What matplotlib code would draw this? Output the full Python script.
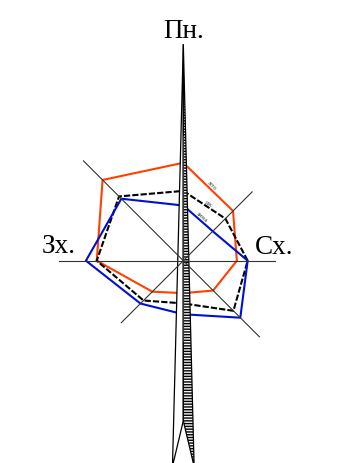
import numpy as np
import matplotlib.pyplot as plt
from matplotlib.patches import Polygon

# wind rose, % of cases per direction
directions = ['Пн', 'ПнСх', 'Сх', 'ПдСх', 'Пд', 'ПдЗх', 'Зх', 'ПнЗх']
summer = [18.1, 13.0, 9.9, 7.8, 6.0, 8.1, 16.0, 21.1]
year = [12.9, 11.0, 11.9, 13.1, 7.9, 10.4, 16.0, 16.8]
winter = [10.2, 7.7, 11.9, 14.9, 9.9, 11.2, 18.0, 16.2]
season_names = ['літо', 'рік', 'зима']

PX = 5.41  # pixels per percent
cx, cy = 183.3, 261.7

fig = plt.figure(figsize=(3.46, 4.64), dpi=100)
ax = fig.add_axes([0, 0, 1, 1])
ax.set_xlim(-cx / PX, (346 - cx) / PX)
ax.set_ylim(-(464 - cy) / PX, cy / PX)
ax.axis('off')

ang = np.deg2rad(90 - 45 * np.arange(8))  # N first, clockwise
ux, uy = np.cos(ang), np.sin(ang)

# axis lines: 5% beyond the largest value
rmax = np.max([summer, year, winter], axis=0) + 5
for i in range(8):
    ax.plot([0, rmax[i] * ux[i]], [0, rmax[i] * uy[i]], color='#333333', lw=0.8, zorder=4)

styles = [dict(color='#ff4000', lw=1.5),
          dict(color='black', lw=1.5, dashes=(3, 1)),
          dict(color='#0010d0', lw=1.5)]
for vals, name, st in zip([summer, year, winter], season_names, styles):
    v = np.array(vals)
    x = np.append(v * ux, v[0] * ux[0])
    y = np.append(v * uy, v[0] * uy[0])
    ax.plot(x, y, zorder=2, **st)
    # label along the N-NE segment
    x0, y0, x1, y1 = x[0], y[0], x[1], y[1]
    rot = np.degrees(np.arctan2(y1 - y0, x1 - x0))
    ax.text((x0 + x1) / 2 + 0.4, (y0 + y1) / 2, name, fontsize=3.8, color='#444444',
            rotation=rot, rotation_mode='anchor', ha='center', va='bottom', zorder=5)

# north arrow
tip, base, notch, half = 40, -38, -29.6, 2.0
left = Polygon([(0, tip), (-half, base), (0, notch)], closed=True,
               facecolor='white', edgecolor='black', lw=0.9, zorder=3)
right = Polygon([(0, tip), (0, notch), (half, base)], closed=True,
                facecolor='#f4f4f4', edgecolor='black', lw=0.9, hatch='------', zorder=3)
ax.add_patch(left)
ax.add_patch(right)

font = ['Liberation Serif', 'DejaVu Serif']
ax.text(0, (cy - 38.3) / PX, 'Пн.', family=font, fontsize=19.5, ha='center', va='baseline')
ax.text((58.3 - cx) / PX, (cy - 253.3) / PX, 'Зх.', family=font, fontsize=19.5, ha='center', va='baseline')
ax.text((274 - cx) / PX, (cy - 254) / PX, 'Сх.', family=font, fontsize=19.5, ha='center', va='baseline')

fig.savefig('out.png', dpi=100)
